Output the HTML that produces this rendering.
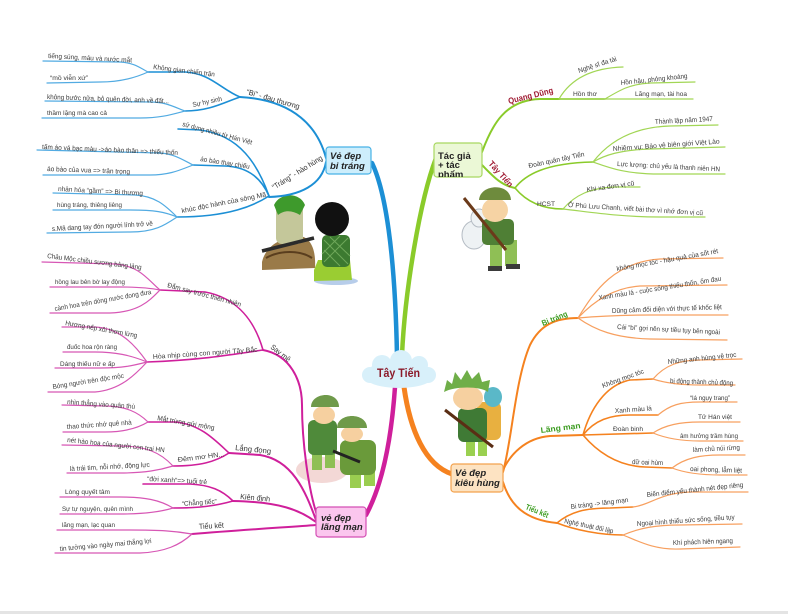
<!DOCTYPE html>
<html><head><meta charset="utf-8"><style>
html,body{margin:0;padding:0;background:#fff;}
svg{display:block}
.p path{fill:none;stroke-linecap:round}
text{font-family:"Liberation Sans",sans-serif}
.t{font-size:6.8px;fill:#3a3a3a}
.m{font-size:7.6px;fill:#333}
.bx{font-size:9.5px;font-weight:bold;fill:#222}
.g{font-size:8px;font-weight:bold;fill:#3b9c1f}
.r{font-size:8.5px;font-weight:bold;fill:#a01c34}
</style></head><body>
<svg width="788" height="614" viewBox="0 0 788 614" xmlns="http://www.w3.org/2000/svg">
<rect width="788" height="614" fill="#fff"/>
<rect y="611" width="788" height="3" fill="#e4e4e4"/>

<!-- Image 1: grave + kneeling -->
<g>
<path d="M262,262 C266,244 285,236 300,236 C312,238 316,252 315,268 L262,270 Z" fill="#9a7a48"/>
<path d="M266,258 C280,250 300,250 312,258" stroke="#5a3e1e" stroke-width="2" fill="none"/>
<rect x="276" y="200" width="27" height="44" rx="6" fill="#c4c79a"/>
<path d="M274,205 C280,192 300,192 305,205 L300,215 C292,210 284,210 278,215 Z" fill="#3e9a2c"/>
<line x1="262" y1="251" x2="314" y2="238" stroke="#2b2b2b" stroke-width="3.5"/>
<ellipse cx="336" cy="281" rx="22" ry="4" fill="#b7cdea"/>
<path d="M314,270 L318,260 L350,260 L352,280 L314,281 Z" fill="#9acd32"/>
<rect x="322" y="235" width="28" height="32" rx="5" fill="#3c7a30"/>
<path d="M324,240 L348,264 M330,237 L350,256 M324,250 L340,266 M348,238 L324,262 M340,236 L322,254" stroke="#6fa85a" stroke-width="1"/>
<circle cx="332" cy="219" r="17" fill="#111"/>
</g>

<!-- Image 2: Tac gia soldier -->
<g>
<ellipse cx="474" cy="235" rx="12" ry="14" fill="#eef2f4" stroke="#b5bcc4" stroke-width="1"/>
<ellipse cx="479" cy="218" rx="8" ry="9" fill="#eef2f4" stroke="#b5bcc4" stroke-width="1"/>
<rect x="490" y="240" width="12" height="28" fill="#8fbf55"/>
<rect x="505" y="240" width="12" height="26" fill="#8fbf55"/>
<rect x="488" y="266" width="14" height="5" fill="#3a3a3a"/>
<rect x="506" y="264" width="14" height="5" fill="#3a3a3a"/>
<rect x="482" y="219" width="32" height="26" rx="5" fill="#4f7f35"/>
<ellipse cx="495" cy="210" rx="13" ry="12" fill="#f6d3a4"/>
<path d="M479,200 C480,184 510,182 511,200 Z" fill="#6e8b3d"/>
<line x1="464" y1="198" x2="506" y2="250" stroke="#6b3a1a" stroke-width="3"/>
</g>

<!-- Image 3: kieu hung soldier -->
<g>
<rect x="466" y="438" width="9" height="18" fill="#9ad050"/>
<rect x="478" y="438" width="9" height="18" fill="#9ad050"/>
<rect x="477" y="402" width="24" height="38" rx="6" fill="#e8b040"/>
<ellipse cx="493" cy="397" rx="9" ry="10" fill="#5ab8c8"/>
<rect x="458" y="408" width="29" height="34" rx="6" fill="#3f7a35"/>
<ellipse cx="468" cy="398" rx="15" ry="12" fill="#f6d0a0"/>
<path d="M444,392 L447,380 L452,384 L455,372 L461,380 L467,370 L472,379 L479,372 L482,382 L490,380 L488,392 C480,386 455,386 444,392 Z" fill="#6fae48"/>
<line x1="445" y1="410" x2="493" y2="447" stroke="#5a2e14" stroke-width="3"/>
</g>

<!-- Image 4: two soldiers -->
<g>
<ellipse cx="322" cy="470" rx="26" ry="13" fill="#f3d8d6"/>
<rect x="312" y="450" width="10" height="20" fill="#8fbf55"/>
<rect x="325" y="450" width="10" height="18" fill="#8fbf55"/>
<rect x="308" y="420" width="29" height="35" rx="6" fill="#4f8a3a"/>
<ellipse cx="324" cy="415" rx="11" ry="9" fill="#f6d0a0"/>
<path d="M311,407 C311,392 339,390 339,407 Z" fill="#6f9a4a"/>
<rect x="350" y="468" width="11" height="20" fill="#9acd50"/>
<rect x="364" y="468" width="11" height="18" fill="#9acd50"/>
<rect x="340" y="440" width="36" height="35" rx="7" fill="#6a9a3a"/>
<ellipse cx="352" cy="434" rx="11" ry="8" fill="#f6d0a0"/>
<path d="M337,428 C337,412 367,412 367,428 Z" fill="#6f9a4a"/>
<line x1="333" y1="451" x2="360" y2="462" stroke="#222" stroke-width="3"/>
</g>

<!-- BLUE -->
<g class="p" stroke="#1c8fd5">
<path d="M372,163 C385,190 395,250 397,356" stroke-width="4.5"/>
<path d="M326,158 C318,128 295,100 240,97" stroke-width="2"/>
<path d="M326,162 C322,185 300,196 269,197" stroke-width="2"/>
<path d="M240,97 C222,90 210,73 185,72 L148,72" stroke-width="1.6"/>
<path d="M240,97 C225,102 210,111 185,111" stroke-width="1.6"/>
<path d="M269,196 C258,165 240,135 200,130 L178,129" stroke-width="1.6"/>
<path d="M269,196 C262,180 250,167 225,166 L193,165" stroke-width="1.6"/>
<path d="M269,196 C255,205 230,217 177,217" stroke-width="1.6"/>
</g>
<g class="p" stroke="#52abe2" stroke-width="1.2">
<path d="M148,72 C140,68 135,63 120,62 L43,61"/>
<path d="M148,72 C135,78 120,82 100,82 L47,83"/>
<path d="M185,111 C172,106 165,102 150,102 L45,101"/>
<path d="M185,111 C170,115 160,118 140,118 L42,118"/>
<path d="M193,165 C183,160 175,154 160,153 L37,150"/>
<path d="M193,165 C180,170 170,175 150,175 L43,175"/>
<path d="M177,217 C165,205 155,196 135,195 L53,193"/>
<path d="M177,217 C165,212 155,210 130,210 L53,210"/>
<path d="M177,217 C165,225 155,232 130,232 L47,233"/>
</g>

<!-- MAGENTA -->
<g class="p" stroke="#cf1f9b">
<path d="M395,387 C392,430 385,480 366,515" stroke-width="4.5"/>
<path d="M318,518 C308,490 302,440 302,405 C302,380 290,355 263,350" stroke-width="2"/>
<path d="M316,520 C305,490 292,460 260,455 L229,453" stroke-width="2"/>
<path d="M316,522 C300,510 280,502 233,501" stroke-width="2"/>
<path d="M316,525 C290,527 240,530 192,534" stroke-width="2"/>
<path d="M263,350 C255,322 238,298 205,292 L160,290" stroke-width="1.6"/>
<path d="M263,350 C230,355 200,360 147,362" stroke-width="1.6"/>
<path d="M229,453 C215,440 200,424 175,422 L148,422" stroke-width="1.6"/>
<path d="M229,453 C215,462 200,466 173,466" stroke-width="1.6"/>
<path d="M233,501 C222,490 210,485 190,484 L143,484" stroke-width="1.6"/>
<path d="M233,501 C215,506 200,508 173,508" stroke-width="1.6"/>
</g>
<g class="p" stroke="#d757b5" stroke-width="1.2">
<path d="M160,290 C148,280 140,266 115,264 L42,262"/>
<path d="M160,290 C150,288 140,287 120,287 L50,287"/>
<path d="M160,290 C150,300 140,312 110,313 L50,313"/>
<path d="M147,362 C135,345 120,328 95,327 L62,327"/>
<path d="M147,362 C130,355 115,352 95,352 L63,352"/>
<path d="M147,362 C135,365 125,368 100,368 L55,368"/>
<path d="M147,362 C135,375 120,390 95,392 L48,392"/>
<path d="M148,422 C138,412 125,406 105,406 L62,405"/>
<path d="M148,422 C138,428 125,432 105,432 L63,432"/>
<path d="M173,466 C160,452 145,446 120,446 L62,445"/>
<path d="M173,466 C160,470 145,473 120,473 L67,473"/>
<path d="M173,508 C160,500 145,497 120,497 L60,497"/>
<path d="M173,508 C160,512 145,514 120,514 L60,514"/>
<path d="M192,534 C175,531 160,530 130,530 L57,530"/>
<path d="M192,534 C180,545 165,552 140,553 L55,553"/>
</g>

<!-- GREEN -->
<g class="p" stroke="#8acb2a">
<path d="M402,355 C405,290 420,200 436,158" stroke-width="4.5"/>
<path d="M482,152 C492,125 505,100 540,99 L559,99" stroke-width="2"/>
<path d="M482,165 C492,175 500,185 515,188" stroke-width="2"/>
<path d="M559,99 L605,99" stroke-width="1.6"/>
<path d="M515,188 C525,175 545,163 593,162" stroke-width="1.6"/>
<path d="M515,188 C525,200 540,209 563,209" stroke-width="1.6"/>
</g>
<g class="p" stroke="#a2d655" stroke-width="1.2">
<path d="M559,99 C570,80 590,68 623,67"/>
<path d="M605,99 C620,90 630,84 650,83 L695,82"/>
<path d="M605,99 L693,99"/>
<path d="M593,162 C610,140 635,127 670,126 L718,125"/>
<path d="M593,162 C605,155 620,150 650,149 L725,147"/>
<path d="M593,162 C610,168 625,174 660,174 L725,174"/>
<path d="M563,209 C575,195 590,188 615,187 L640,187"/>
<path d="M563,209 C590,212 620,217 660,217 L705,217"/>
</g>

<!-- ORANGE -->
<g class="p" stroke="#f5821f">
<path d="M404,387 C410,430 425,465 452,474" stroke-width="5"/>
<path d="M503,472 C512,440 515,380 530,345 C540,325 555,318 578,318" stroke-width="2"/>
<path d="M503,470 C510,455 525,438 550,436 L583,435" stroke-width="2"/>
<path d="M503,482 C510,505 525,520 557,523" stroke-width="2"/>
<path d="M583,435 C590,410 605,385 630,380 L653,379" stroke-width="1.6"/>
<path d="M583,435 C595,420 610,415 630,415 L658,415" stroke-width="1.6"/>
<path d="M583,435 L653,433" stroke-width="1.6"/>
<path d="M583,435 C600,455 620,466 645,467 L672,468" stroke-width="1.6"/>
<path d="M557,523 C570,512 585,508 610,508 L633,507" stroke-width="1.6"/>
<path d="M557,523 C575,530 600,535 623,535" stroke-width="1.6"/>
</g>
<g class="p" stroke="#f7a060" stroke-width="1.2">
<path d="M578,318 C595,290 615,262 660,259 L723,258"/>
<path d="M578,318 C590,305 610,288 640,286 L727,285"/>
<path d="M578,318 C600,316 620,315 650,315 L728,315"/>
<path d="M578,318 C595,330 615,338 650,339 L727,340"/>
<path d="M653,379 C665,365 680,360 700,360 L742,359"/>
<path d="M653,379 C665,383 680,385 700,385 L735,385"/>
<path d="M658,415 C670,405 680,402 700,402 L737,402"/>
<path d="M653,433 C665,425 680,422 700,422 L740,422"/>
<path d="M653,433 C665,438 680,441 700,441 L743,441"/>
<path d="M672,468 C685,458 700,455 720,455 L745,455"/>
<path d="M672,468 C685,473 700,475 720,475 L747,475"/>
<path d="M633,507 C650,505 660,493 690,492 L748,492"/>
<path d="M623,535 C640,528 655,525 680,525 L742,524"/>
<path d="M623,535 C640,542 655,550 680,549 L740,547"/>
</g>

<!-- Center cloud -->
<g fill="#d8f0fa">
<ellipse cx="399" cy="375" rx="36" ry="13"/>
<circle cx="382" cy="365" r="10"/>
<circle cx="401" cy="361" r="11"/>
<circle cx="419" cy="365" r="9"/>
<circle cx="370" cy="375" r="8"/>
<circle cx="428" cy="375" r="8"/>
</g>
<text x="377" y="377" textLength="43" lengthAdjust="spacingAndGlyphs" style="font-size:11.5px;font-weight:bold;fill:#8b1a2a">Tây Tiến</text>

<!-- Boxes -->
<rect x="326" y="147" width="45" height="27" rx="3" fill="#cdeefc" stroke="#48b2e6" stroke-width="1.2"/>
<text class="bx" font-style="italic" x="330" y="159">Vẻ đẹp</text>
<text class="bx" font-style="italic" x="330" y="169">bi tráng</text>

<defs><clipPath id="cp"><rect x="434" y="143" width="48" height="34"/></clipPath></defs>
<rect x="434" y="143" width="48" height="34" rx="3" fill="#ebf8d6" stroke="#a8d860" stroke-width="1.2"/>
<g clip-path="url(#cp)">
<text class="bx" x="438" y="159">Tác giả</text>
<text class="bx" x="438" y="168">+ tác</text>
<text class="bx" x="438" y="177.5">phẩm</text>
</g>

<rect x="316" y="507" width="50" height="30" rx="3" fill="#fbc6ee" stroke="#d44fb4" stroke-width="1.2"/>
<text class="bx" font-style="italic" x="321" y="521">vẻ đẹp</text>
<text class="bx" font-style="italic" x="321" y="530">lãng mạn</text>

<rect x="451" y="464" width="52" height="28" rx="3" fill="#fde3c2" stroke="#f3a24e" stroke-width="1.2"/>
<text class="bx" font-style="italic" x="455" y="476">Vẻ đẹp</text>
<text class="bx" font-style="italic" x="455" y="486">kiêu hùng</text>

<!-- BLUE texts -->
<g lengthAdjust="spacingAndGlyphs">
<text class="m" x="246" y="94" transform="rotate(16 246 94)" textLength="55" lengthAdjust="spacingAndGlyphs">“Bi” - đau thương</text>
<text class="m" x="274" y="190" transform="rotate(-32 274 190)" textLength="58" lengthAdjust="spacingAndGlyphs">“Tráng” - hào hùng</text>
<text class="t" x="153" y="69" transform="rotate(7 153 69)" textLength="62" lengthAdjust="spacingAndGlyphs">Không gian chiến trận</text>
<text class="t" x="48" y="58" transform="rotate(3 48 58)" textLength="84" lengthAdjust="spacingAndGlyphs">tiếng súng, máu và nước mắt</text>
<text class="t" x="50" y="80" textLength="38" lengthAdjust="spacingAndGlyphs">“mồ viễn xứ”</text>
<text class="t" x="193" y="107" transform="rotate(-12 193 107)" textLength="30" lengthAdjust="spacingAndGlyphs">Sự hy sinh</text>
<text class="t" x="47" y="99" transform="rotate(2 47 99)" textLength="122" lengthAdjust="spacingAndGlyphs">không bước nữa, bỏ quên đời, anh về đất...</text>
<text class="t" x="47" y="115" textLength="60" lengthAdjust="spacingAndGlyphs">thầm lặng mà cao cả</text>
<text class="t" x="182" y="126" transform="rotate(15 182 126)" textLength="72" lengthAdjust="spacingAndGlyphs">sử dụng nhiều từ Hán Việt</text>
<text class="t" x="200" y="161" transform="rotate(9 200 161)" textLength="50" lengthAdjust="spacingAndGlyphs">áo bào thay chiếu</text>
<text class="t" x="42" y="149" transform="rotate(2.5 42 149)" textLength="136" lengthAdjust="spacingAndGlyphs">tấm áo vá bạc màu -&gt;áo bào thân =&gt; thiếu thốn</text>
<text class="t" x="47" y="171" transform="rotate(2 47 171)" textLength="83" lengthAdjust="spacingAndGlyphs">áo bào của vua =&gt; trân trọng</text>
<text class="t" x="182" y="213" transform="rotate(-11 182 213)" textLength="86" lengthAdjust="spacingAndGlyphs">khúc độc hành của sông Mã</text>
<text class="t" x="58" y="191" transform="rotate(3 58 191)" textLength="85" lengthAdjust="spacingAndGlyphs">nhân hóa “gầm” =&gt; Bi thương</text>
<text class="t" x="57" y="207" textLength="65" lengthAdjust="spacingAndGlyphs">hùng tráng, thiêng liêng</text>
<text class="t" x="52" y="231" transform="rotate(-3 52 231)" textLength="101" lengthAdjust="spacingAndGlyphs">s.Mã dang tay đón người lính trở về</text>
</g>

<!-- MAGENTA texts -->
<text class="m" x="270" y="348" transform="rotate(38 270 348)" textLength="23" lengthAdjust="spacingAndGlyphs">Say mê</text>
<text class="m" x="235" y="450" transform="rotate(6 235 450)" textLength="36" lengthAdjust="spacingAndGlyphs">Lắng đọng</text>
<text class="m" x="240" y="499" transform="rotate(5 240 499)" textLength="30" lengthAdjust="spacingAndGlyphs">Kiên định</text>
<text class="m" x="199" y="529" transform="rotate(-3 199 529)" textLength="25" lengthAdjust="spacingAndGlyphs">Tiểu kết</text>
<text class="t" x="167" y="287" transform="rotate(15 167 287)" textLength="76" lengthAdjust="spacingAndGlyphs">Đắm say trước thiên nhiên</text>
<text class="t" x="47" y="258" transform="rotate(7 47 258)" textLength="95" lengthAdjust="spacingAndGlyphs">Châu Mộc chiều sương bảng lảng</text>
<text class="t" x="55" y="284" textLength="70" lengthAdjust="spacingAndGlyphs">hồng lau bên bờ lay động</text>
<text class="t" x="55" y="311" transform="rotate(-10 55 311)" textLength="98" lengthAdjust="spacingAndGlyphs">cành hoa trên dòng nước đong đưa</text>
<text class="t" x="153" y="359" transform="rotate(-4 153 359)" textLength="105" lengthAdjust="spacingAndGlyphs">Hòa nhịp cùng con người Tây Bắc</text>
<text class="t" x="65" y="325" transform="rotate(10 65 325)" textLength="73" lengthAdjust="spacingAndGlyphs">Hương nếp xôi thơm lừng</text>
<text class="t" x="67" y="349" textLength="50" lengthAdjust="spacingAndGlyphs">đuốc hoa rộn ràng</text>
<text class="t" x="60" y="366" textLength="55" lengthAdjust="spacingAndGlyphs">Dáng thiếu nữ e ấp</text>
<text class="t" x="53" y="389" transform="rotate(-9 53 389)" textLength="72" lengthAdjust="spacingAndGlyphs">Bóng người trên độc mộc</text>
<text class="t" x="157" y="420" transform="rotate(10 157 420)" textLength="58" lengthAdjust="spacingAndGlyphs">Mắt trừng gửi mộng</text>
<text class="t" x="67" y="404" transform="rotate(4 67 404)" textLength="68" lengthAdjust="spacingAndGlyphs">nhìn thẳng vào quân thù</text>
<text class="t" x="67" y="429" transform="rotate(-4 67 429)" textLength="65" lengthAdjust="spacingAndGlyphs">thao thức nhớ quê nhà</text>
<text class="t" x="178" y="462" transform="rotate(-7 178 462)" textLength="47" lengthAdjust="spacingAndGlyphs">Đêm mơ HN...</text>
<text class="t" x="67" y="442" transform="rotate(6 67 442)" textLength="98" lengthAdjust="spacingAndGlyphs">nét hào hoa của người con trai HN</text>
<text class="t" x="70" y="471" transform="rotate(-3 70 471)" textLength="80" lengthAdjust="spacingAndGlyphs">là trái tim, nỗi nhớ, động lực</text>
<text class="t" x="147" y="481" transform="rotate(3 147 481)" textLength="60" lengthAdjust="spacingAndGlyphs">“đời xanh”=&gt; tuổi trẻ</text>
<text class="t" x="182" y="506" transform="rotate(-4 182 506)" textLength="35" lengthAdjust="spacingAndGlyphs">“Chẳng tiếc”</text>
<text class="t" x="65" y="494" textLength="45" lengthAdjust="spacingAndGlyphs">Lòng quyết tâm</text>
<text class="t" x="62" y="511" textLength="71" lengthAdjust="spacingAndGlyphs">Sự tự nguyện, quên mình</text>
<text class="t" x="62" y="527" textLength="53" lengthAdjust="spacingAndGlyphs">lãng mạn, lạc quan</text>
<text class="t" x="60" y="551" transform="rotate(-5 60 551)" textLength="92" lengthAdjust="spacingAndGlyphs">tin tưởng vào ngày mai thắng lợi</text>

<!-- GREEN texts -->
<text class="r" x="509" y="104" transform="rotate(-14 509 104)" textLength="46" lengthAdjust="spacingAndGlyphs">Quang Dũng</text>
<text class="r" x="488" y="164" transform="rotate(48 488 164)" textLength="32" lengthAdjust="spacingAndGlyphs">Tây Tiến</text>
<text class="t" x="579" y="73" transform="rotate(-18 579 73)" textLength="40" lengthAdjust="spacingAndGlyphs">Nghệ sĩ đa tài</text>
<text class="t" x="573" y="96" textLength="24" lengthAdjust="spacingAndGlyphs">Hồn thơ</text>
<text class="t" x="621" y="85" transform="rotate(-6 621 85)" textLength="67" lengthAdjust="spacingAndGlyphs">Hồn hậu, phóng khoáng</text>
<text class="t" x="635" y="96" textLength="52" lengthAdjust="spacingAndGlyphs">Lãng mạn, tài hoa</text>
<text class="t" x="529" y="168" transform="rotate(-12 529 168)" textLength="57" lengthAdjust="spacingAndGlyphs">Đoàn quân tây Tiến</text>
<text class="t" x="655" y="124" transform="rotate(-3 655 124)" textLength="58" lengthAdjust="spacingAndGlyphs">Thành lập năm 1947</text>
<text class="t" x="613" y="151" transform="rotate(-4 613 151)" textLength="107" lengthAdjust="spacingAndGlyphs">Nhiệm vụ: Bảo vệ biên giới Việt Lào</text>
<text class="t" x="617" y="166" transform="rotate(3 617 166)" textLength="103" lengthAdjust="spacingAndGlyphs">Lực lượng: chủ yếu là thanh niên HN</text>
<text class="t" x="537" y="206" textLength="18" lengthAdjust="spacingAndGlyphs">HCST</text>
<text class="t" x="587" y="192" transform="rotate(-8 587 192)" textLength="48" lengthAdjust="spacingAndGlyphs">Khi xa đơn vị cũ</text>
<text class="t" x="568" y="207" transform="rotate(3.5 568 207)" textLength="135" lengthAdjust="spacingAndGlyphs">Ở Phù Lưu Chanh, viết bài thơ vì nhớ đơn vị cũ</text>

<!-- ORANGE texts -->
<text class="g" x="543" y="326" transform="rotate(-22 543 326)" textLength="27" lengthAdjust="spacingAndGlyphs">Bi tráng</text>
<text class="g" x="541" y="433" transform="rotate(-7 541 433)" textLength="40" lengthAdjust="spacingAndGlyphs">Lãng mạn</text>
<text class="g" x="525" y="509" transform="rotate(22 525 509)" textLength="24" lengthAdjust="spacingAndGlyphs">Tiểu kết</text>
<text class="t" x="617" y="271" transform="rotate(-10 617 271)" textLength="103" lengthAdjust="spacingAndGlyphs">không mọc tóc - hậu quả của sốt rét</text>
<text class="t" x="599" y="300" transform="rotate(-9 599 300)" textLength="124" lengthAdjust="spacingAndGlyphs">Xanh màu lá - cuộc sống thiếu thốn, ốm đau</text>
<text class="t" x="612" y="313" transform="rotate(-2 612 313)" textLength="110" lengthAdjust="spacingAndGlyphs">Dũng cảm đối diện với thực tế khốc liệt</text>
<text class="t" x="617" y="329" transform="rotate(3 617 329)" textLength="103" lengthAdjust="spacingAndGlyphs">Cái “bi” gợi nên sự tiều tụy bên ngoài</text>
<text class="t" x="603" y="388" transform="rotate(-20 603 388)" textLength="44" lengthAdjust="spacingAndGlyphs">Không mọc tóc</text>
<text class="t" x="668" y="364" transform="rotate(-6 668 364)" textLength="69" lengthAdjust="spacingAndGlyphs">Những anh hùng vệ trọc</text>
<text class="t" x="670" y="383" transform="rotate(2 670 383)" textLength="63" lengthAdjust="spacingAndGlyphs">bị động thành chủ động</text>
<text class="t" x="615" y="413" transform="rotate(-4 615 413)" textLength="37" lengthAdjust="spacingAndGlyphs">Xanh màu lá</text>
<text class="t" x="690" y="400" textLength="40" lengthAdjust="spacingAndGlyphs">“lá ngụy trang”</text>
<text class="t" x="613" y="431" textLength="30" lengthAdjust="spacingAndGlyphs">Đoàn binh</text>
<text class="t" x="698" y="419" textLength="34" lengthAdjust="spacingAndGlyphs">Tử Hán việt</text>
<text class="t" x="680" y="438" textLength="58" lengthAdjust="spacingAndGlyphs">âm hưởng trầm hùng</text>
<text class="t" x="632" y="464" transform="rotate(2 632 464)" textLength="31" lengthAdjust="spacingAndGlyphs">dữ oai hùm</text>
<text class="t" x="693" y="452" transform="rotate(-3 693 452)" textLength="47" lengthAdjust="spacingAndGlyphs">làm chủ núi rừng</text>
<text class="t" x="690" y="471" transform="rotate(2 690 471)" textLength="52" lengthAdjust="spacingAndGlyphs">oai phong, lẫm liệt</text>
<text class="t" x="571" y="509" transform="rotate(-7 571 509)" textLength="58" lengthAdjust="spacingAndGlyphs">Bi tráng -&gt; lãng mạn</text>
<text class="t" x="647" y="497" transform="rotate(-6 647 497)" textLength="97" lengthAdjust="spacingAndGlyphs">Biến điểm yếu thành nét đẹp riêng</text>
<text class="t" x="564" y="523" transform="rotate(12 564 523)" textLength="50" lengthAdjust="spacingAndGlyphs">Nghệ thuật đối lập</text>
<text class="t" x="637" y="526" transform="rotate(-4 637 526)" textLength="98" lengthAdjust="spacingAndGlyphs">Ngoại hình thiếu sức sống, tiều tụy</text>
<text class="t" x="673" y="545" transform="rotate(-2 673 545)" textLength="60" lengthAdjust="spacingAndGlyphs">Khí phách hiên ngang</text>
</svg>
</body></html>
